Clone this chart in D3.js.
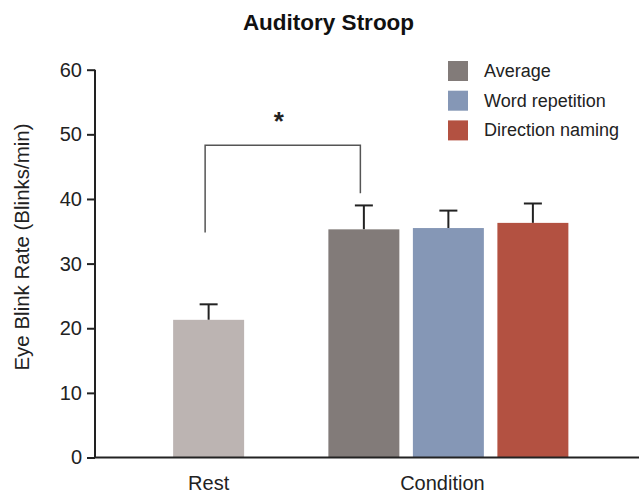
<!DOCTYPE html>
<html>
<head>
<meta charset="utf-8">
<script src="https://cdn.jsdelivr.net/npm/d3@7"></script>
<style>
  html, body { margin: 0; padding: 0; background: #fff; }
  svg { display: block; font-family: "Liberation Sans", Arial, sans-serif; }
</style>
</head>
<body>
<svg id="chart" width="639" height="494"></svg>
<script>
// ---- data ----
const groups = ["Rest", "Condition"];
const conditions = ["Average", "Word repetition", "Direction naming"];
const restValue = 21.3;
const restError = 2.4;
const conditionValues = [35.3, 35.5, 36.3];
const conditionErrors = [3.7, 2.7, 3.0];
const yTicks = [0, 10, 20, 30, 40, 50, 60];
const restColor = "#bcb4b2";
const conditionColors = ["#827b79", "#8597b6", "#b35141"];
const bracketValues = [34.8, 48.3, 40.9]; // left foot, top, right foot
const titleText = "Auditory Stroop";
const yLabel = "Eye Blink Rate (Blinks/min)";

// ---- layout ----
const svg = d3.select("#chart");
const W = 639;
const axisX = 95;

const y = d3.scaleLinear().domain([0, 60]).range([457.5, 69.7]);
const xOuter = d3.scaleBand().domain(groups).range([88.75, 568.25]).padding(0);
const cCenter = xOuter("Condition") + xOuter.bandwidth() / 2;
const xInner = d3.scaleBand().domain(conditions).range([cCenter - 120, cCenter + 120])
  .paddingInner(0.16).paddingOuter(0);
const bw = xInner.bandwidth();
const restCenter = xOuter("Rest") + xOuter.bandwidth() / 2;

// title
svg.append("text").attr("x", 328.5).attr("y", 30).attr("text-anchor", "middle")
  .attr("font-size", 22.5).attr("font-weight", "bold").attr("fill", "#111").text(titleText);

// bars
const bars = [{name: "Rest", cx: restCenter, v: restValue, e: restError, c: restColor}]
  .concat(conditions.map((d, i) => ({name: d, cx: xInner(d) + bw / 2, v: conditionValues[i], e: conditionErrors[i], c: conditionColors[i]})));

// error bars (drawn behind bars)
const eb = svg.append("g").attr("stroke", "#222").attr("stroke-width", 2);
bars.forEach(b => {
  eb.append("line").attr("x1", b.cx).attr("x2", b.cx).attr("y1", y(b.v)).attr("y2", y(b.v + b.e));
  eb.append("line").attr("x1", b.cx - 9).attr("x2", b.cx + 9).attr("y1", y(b.v + b.e)).attr("y2", y(b.v + b.e));
});

svg.append("g").selectAll("rect").data(bars).join("rect")
  .attr("x", d => d.cx - bw / 2).attr("width", bw)
  .attr("y", d => y(d.v)).attr("height", d => y(0) - y(d.v))
  .attr("fill", d => d.c);

// y axis
const yAxis = d3.axisLeft(y).tickValues(yTicks).tickSize(8).tickPadding(5);
const gy = svg.append("g").attr("transform", `translate(${axisX},0)`).call(yAxis);
gy.select(".domain").attr("d", `M0,${y(60)}V${y(0)}`).attr("stroke", "#222").attr("stroke-width", 2);
gy.selectAll(".tick line").attr("stroke", "#222").attr("stroke-width", 2);
gy.selectAll(".tick text").attr("font-size", 20).attr("fill", "#222")
  .attr("font-family", "Liberation Sans, Arial, sans-serif");

// x axis
const xAxis = d3.axisBottom(xOuter).tickSize(0).tickPadding(14);
const gx = svg.append("g").attr("transform", `translate(0,${y(0)})`).call(xAxis);
gx.select(".domain").attr("d", `M${axisX - 1},0H${W}`).attr("stroke", "#222").attr("stroke-width", 2);
gx.selectAll(".tick text").attr("font-size", 20).attr("fill", "#222")
  .attr("font-family", "Liberation Sans, Arial, sans-serif")
  .attr("dy", "0.9em")
  .attr("dx", d => d === "Condition" ? -6 : 0);

// y label
svg.append("text").attr("transform", `translate(29,247) rotate(-90)`)
  .attr("text-anchor", "middle").attr("font-size", 20.5).attr("fill", "#222").text(yLabel);

// significance bracket
const bl = restCenter - 3.5, br = xInner("Average") + bw / 2 - 3.5;
svg.append("path")
  .attr("d", `M${bl},${y(bracketValues[0])}V${y(bracketValues[1])}H${br}V${y(bracketValues[2])}`)
  .attr("fill", "none").attr("stroke", "#555").attr("stroke-width", 1.5);
svg.append("text").attr("x", (bl + br) / 2 - 4).attr("y", 130).attr("text-anchor", "middle")
  .attr("font-size", 26).attr("font-weight", "bold").attr("fill", "#222").text("*");

// legend
const lg = svg.append("g").attr("transform", "translate(448,61)");
conditions.forEach((d, i) => {
  const row = lg.append("g").attr("transform", `translate(0,${i * 29.7})`);
  row.append("rect").attr("width", 20).attr("height", 20).attr("fill", conditionColors[i]);
  row.append("text").attr("x", 36).attr("y", 16).attr("font-size", 18).attr("fill", "#222").text(d);
});
</script>
</body>
</html>
